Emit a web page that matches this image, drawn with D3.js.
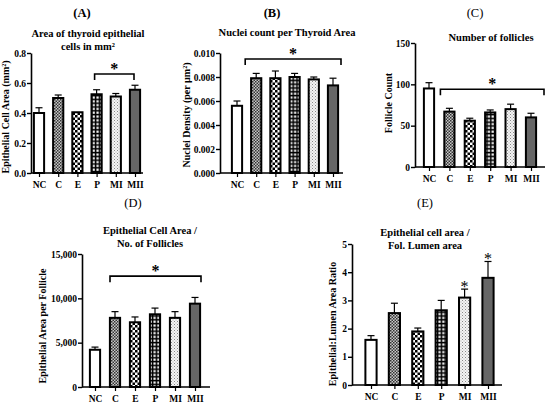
<!DOCTYPE html>
<html>
<head>
<meta charset="utf-8">
<script src="https://cdn.jsdelivr.net/npm/d3@7"></script>
<style>
  body { margin: 0; background: #fff; }
  svg { display: block; }
  text { font-family: "Liberation Serif", "Times New Roman", serif; fill: #000; }
</style>
</head>
<body>
<svg id="fig" width="550" height="406"></svg>
<script>
// Thyroid histology panels A-E
const groups = ['NC', 'C', 'E', 'P', 'MI', 'MII'];

// (A) epithelial cell area, mm2
const cellArea = [0.40, 0.50, 0.405, 0.525, 0.51, 0.555];
const cellAreaErr = [0.035, 0.02, 0, 0.03, 0.02, 0.03];
const cellAreaTicks = [0, 0.2, 0.4, 0.6, 0.8];

// (B) nuclei density, per um2
const nucleiDensity = [0.0056, 0.0079, 0.0079, 0.0080, 0.0078, 0.0073];
const nucleiDensityErr = [0.0004, 0.0004, 0.0006, 0.0003, 0.0002, 0.0006];
const nucleiDensityTicks = [0, 0.002, 0.004, 0.006, 0.008, 0.010];

// (C) follicle count
const follicleCount = [95, 67, 56, 66, 70, 60];
const follicleCountErr = [7, 4, 3, 3, 6, 5];
const follicleCountTicks = [0, 50, 100, 150];

// (D) epithelial area per follicle
const areaPerFollicle = [4200, 7800, 7300, 8200, 7800, 9400];
const areaPerFollicleErr = [300, 700, 600, 700, 700, 700];
const areaPerFollicleTicks = [0, 5000, 10000, 15000];

// (E) epithelial : lumen area ratio
const lumenRatio = [1.6, 2.55, 1.9, 2.65, 3.1, 3.8];
const lumenRatioErr = [0.15, 0.35, 0.12, 0.35, 0.3, 0.58];
const lumenRatioTicks = [0, 1, 2, 3, 4, 5];

window.addEventListener('DOMContentLoaded', () => {
    const svg = d3.select('#fig');
    const defs = svg.append('defs');

    // fill patterns, one per group
    const fine = defs.append('pattern').attr('id', 'pC').attr('patternUnits', 'userSpaceOnUse')
        .attr('width', 3).attr('height', 3);
    fine.append('rect').attr('width', 3).attr('height', 3).attr('fill', '#c8c8c8');
    fine.append('rect').attr('width', 1.5).attr('height', 1.5).attr('fill', '#333');
    fine.append('rect').attr('x', 1.5).attr('y', 1.5).attr('width', 1.5).attr('height', 1.5).attr('fill', '#333');

    const checker = defs.append('pattern').attr('id', 'pE').attr('patternUnits', 'userSpaceOnUse')
        .attr('width', 5).attr('height', 5);
    checker.append('rect').attr('width', 5).attr('height', 5).attr('fill', '#fff');
    checker.append('rect').attr('width', 2.5).attr('height', 2.5).attr('fill', '#000');
    checker.append('rect').attr('x', 2.5).attr('y', 2.5).attr('width', 2.5).attr('height', 2.5).attr('fill', '#000');

    const grid = defs.append('pattern').attr('id', 'pP').attr('patternUnits', 'userSpaceOnUse')
        .attr('width', 3.8).attr('height', 3.8);
    grid.append('rect').attr('width', 3.8).attr('height', 3.8).attr('fill', '#000');
    grid.append('rect').attr('x', 1.4).attr('y', 1.4).attr('width', 2.2).attr('height', 2.2).attr('fill', '#fff');

    const dots = defs.append('pattern').attr('id', 'pMI').attr('patternUnits', 'userSpaceOnUse')
        .attr('width', 3).attr('height', 3);
    dots.append('rect').attr('width', 3).attr('height', 3).attr('fill', '#f4f4f4');
    dots.append('rect').attr('width', 1).attr('height', 1).attr('fill', '#888');
    dots.append('rect').attr('x', 1.5).attr('y', 1.5).attr('width', 1).attr('height', 1).attr('fill', '#aaa');

    const fills = ['#fff', 'url(#pC)', 'url(#pE)', 'url(#pP)', 'url(#pMI)', '#666'];

    const panels = [
        { letter: '(A)', letterX: 82, letterBold: true,
          title: ['Area of thyroid epithelial', 'cells in mm²'], titleX: 88, titleY: 37,
          ylabel: 'Epithelial Cell Area (mm²)', ylabelX: 9, ylabelY: 117,
          values: cellArea, errs: cellAreaErr, ticks: cellAreaTicks, fmt: d3.format('.1f'),
          axisX: 31, top: 53, bottom: 173, xEnd: 143, first: 39, last: 135, barW: 12,
          bracket: { from: 'P', to: 'MII', y: 0.66, d0: 2, d1: 1 } },
        { letter: '(B)', letterX: 272, letterBold: true,
          title: ['Nuclei count per Thyroid Area'], titleX: 287, titleY: 36,
          ylabel: 'Nuclei Density (per µm²)', ylabelX: 190, ylabelY: 115,
          values: nucleiDensity, errs: nucleiDensityErr, ticks: nucleiDensityTicks, fmt: d3.format('.3f'),
          axisX: 220, top: 53, bottom: 173, xEnd: 343, first: 237, last: 333, barW: 12,
          bracket: { from: 'C', to: 'MII', y: 0.0095, d0: 11, d1: -8 } },
        { letter: '(C)', letterX: 475, letterBold: false,
          title: ['Number of follicles'], titleX: 491, titleY: 41,
          ylabel: 'Follicle Count', ylabelX: 392, ylabelY: 103,
          values: follicleCount, errs: follicleCountErr, ticks: follicleCountTicks, fmt: d3.format('d'),
          axisX: 415, top: 43, bottom: 167, xEnd: 545, first: 429, last: 531, barW: 12,
          bracket: { from: 'C', to: 'MII', y: 94, d0: 9, d1: -13 } },
        { letter: '(D)', letterX: 133, letterBold: false,
          title: ['Epithelial Cell Area /', 'No. of Follicles'], titleX: 150, titleY: 234,
          ylabel: 'Epithelial Area per Follicle', ylabelX: 46, ylabelY: 326,
          values: areaPerFollicle, errs: areaPerFollicleErr, ticks: areaPerFollicleTicks, fmt: d3.format(','),
          axisX: 82, top: 254, bottom: 387, xEnd: 210, first: 95, last: 195, barW: 12,
          bracket: { from: 'C', to: 'MII', y: 12500, d0: 5, d1: -6 } },
        { letter: '(E)', letterX: 425, letterBold: false,
          title: ['Epithelial cell area /', 'Fol. Lumen area'], titleX: 425, titleY: 236,
          ylabel: 'Epithelial:Lumen Area Ratio', ylabelX: 336, ylabelY: 324,
          values: lumenRatio, errs: lumenRatioErr, ticks: lumenRatioTicks, fmt: d3.format('d'),
          axisX: 352, top: 244, bottom: 385, xEnd: 502, first: 371, last: 488, barW: 13,
          stars: ['MI', 'MII'] }
    ];

    function drawPanel(p) {
        const g = svg.append('g');
        const y = d3.scaleLinear().domain([0, d3.max(p.ticks)]).range([p.bottom, p.top]);
        const x = d3.scalePoint().domain(groups).range([p.first, p.last]);

        // panel letter and title
        g.append('text')
            .attr('x', p.letterX).attr('y', p.top < 100 ? 17 : 207)
            .attr('text-anchor', 'middle')
            .attr('font-size', 12.5)
            .attr('fill', '#000')
            .attr('font-weight', p.letterBold ? 'bold' : 'normal')
            .text(p.letter);

        p.title.forEach((line, i) => {
            g.append('text')
                .attr('x', p.titleX).attr('y', p.titleY + i * 13)
                .attr('text-anchor', 'middle')
                .attr('font-size', 10.5)
                .attr('font-weight', 'bold')
                .attr('fill', '#000')
                .text(line);
        });

        g.append('text')
            .attr('transform', `translate(${p.ylabelX},${p.ylabelY}) rotate(-90)`)
            .attr('text-anchor', 'middle')
            .attr('font-size', 10)
            .attr('font-weight', 'bold')
            .attr('fill', '#000')
            .text(p.ylabel);

        // error bars (upper only)
        const err = g.append('g').attr('stroke', '#000').attr('stroke-width', 1.2);
        p.values.forEach((v, i) => {
            const cx = x(groups[i]);
            const e = p.errs[i];
            if (e <= 0) return;
            err.append('line').attr('x1', cx).attr('x2', cx).attr('y1', y(v)).attr('y2', y(v + e));
            err.append('line').attr('x1', cx - 3.5).attr('x2', cx + 3.5).attr('y1', y(v + e)).attr('y2', y(v + e));
        });

        // bars
        g.selectAll('rect.bar')
            .data(p.values)
            .join('rect')
            .attr('class', 'bar')
            .attr('x', (d, i) => x(groups[i]) - p.barW / 2 + 0.9)
            .attr('y', d => y(d))
            .attr('width', p.barW - 1.8)
            .attr('height', d => y(0) - y(d))
            .attr('fill', (d, i) => fills[i])
            .attr('stroke', '#000')
            .attr('stroke-width', 2);

        // y axis
        const yAxis = g.append('g')
            .attr('transform', `translate(${p.axisX},0)`)
            .call(d3.axisLeft(y).tickValues(p.ticks).tickFormat(p.fmt).tickSize(4).tickSizeOuter(0));
        yAxis.select('.domain').attr('stroke-width', 1.6);
        yAxis.selectAll('.tick line').attr('stroke-width', 1.4);
        yAxis.selectAll('.tick text')
            .attr('font-family', '"Liberation Serif", serif')
            .attr('font-size', 9.5)
            .attr('font-weight', 'bold')
            .attr('fill', '#000')
            .attr('x', -5);

        // x axis
        const xAxis = g.append('g')
            .attr('transform', `translate(0,${p.bottom})`)
            .call(d3.axisBottom(x).tickSize(4).tickSizeOuter(0));
        xAxis.select('.domain').remove();
        xAxis.selectAll('.tick line').attr('stroke-width', 1.2);
        xAxis.selectAll('.tick text')
            .attr('font-family', '"Liberation Serif", serif')
            .attr('font-size', 9.5)
            .attr('font-weight', 'bold')
            .attr('fill', '#000')
            .attr('y', 8);
        g.append('line')
            .attr('x1', p.axisX).attr('x2', p.xEnd)
            .attr('y1', p.bottom).attr('y2', p.bottom)
            .attr('stroke', '#000').attr('stroke-width', 1.6);

        // significance bracket
        if (p.bracket) {
            const b = p.bracket;
            const x0 = x(b.from) - b.d0;
            const x1 = x(b.to) - b.d1;
            const by = y(b.y);
            g.append('path')
                .attr('d', `M${x0},${by + 6}V${by}H${x1}V${by + 6}`)
                .attr('fill', 'none')
                .attr('stroke', '#000')
                .attr('stroke-width', 1.6);
            g.append('text')
                .attr('x', (x0 + x1) / 2).attr('y', by)
                .attr('text-anchor', 'middle')
                .attr('font-size', 16)
                .attr('font-weight', 'bold')
                .attr('fill', '#000')
                .text('*');
        }

        // stars over single bars
        if (p.stars) {
            p.stars.forEach(s => {
                const i = groups.indexOf(s);
                g.append('text')
                    .attr('x', x(s)).attr('y', y(p.values[i] + p.errs[i]) + 3)
                    .attr('text-anchor', 'middle')
                    .attr('font-size', 16)
                    .attr('fill', '#000')
                    .text('*');
            });
        }
    }

    panels.forEach(drawPanel);
});
</script>
</body>
</html>
